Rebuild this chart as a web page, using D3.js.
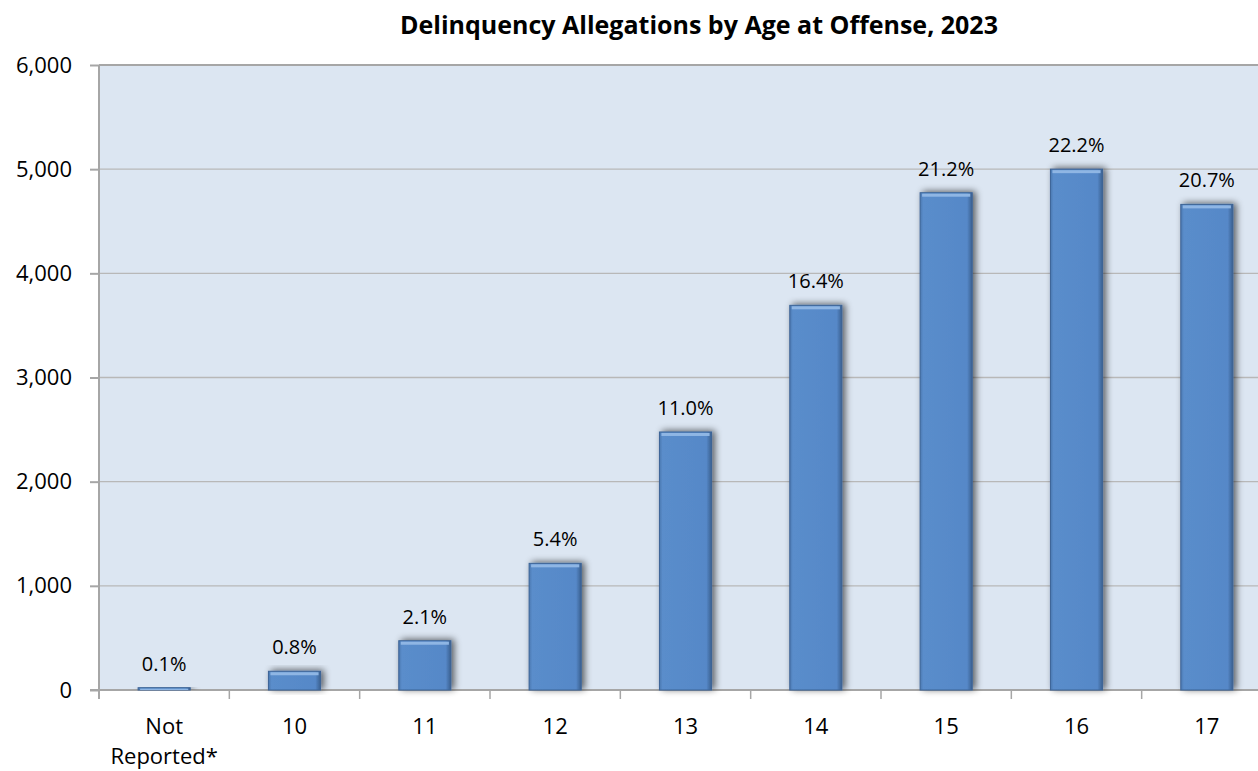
<!DOCTYPE html>
<html>
<head>
<meta charset="utf-8">
<script src="https://cdn.jsdelivr.net/npm/d3@7"></script>
<style>
  html, body { margin: 0; padding: 0; background: #fff; overflow: hidden; }
  svg { display: block; }
  text { font-family: "Open Sans", "Noto Sans", sans-serif; fill: #000; }
</style>
</head>
<body>
<svg id="chart" width="1258" height="771"></svg>
<script>
const categories = ["Not Reported*", "10", "11", "12", "13", "14", "15", "16", "17"];
const values = [22, 180, 473, 1216, 2477, 3693, 4774, 5000, 4662];
const percentLabels = ["0.1%", "0.8%", "2.1%", "5.4%", "11.0%", "16.4%", "21.2%", "22.2%", "20.7%"];
const yTicks = [0, 1000, 2000, 3000, 4000, 5000, 6000];
const titleText = "Delinquency Allegations by Age at Offense, 2023";

const svg = d3.select("#chart");
const margin = { left: 99, top: 65, bottom: 81 };
const plotW = 1173;
const plotH = 771 - margin.top - margin.bottom;

const defs = svg.append("defs");
const grad = defs.append("linearGradient").attr("id", "barGrad").attr("x1", "0").attr("x2", "1").attr("y1", "0").attr("y2", "0");
grad.append("stop").attr("offset", "0%").attr("stop-color", "#4a78b0");
grad.append("stop").attr("offset", "6%").attr("stop-color", "#5a8dcb");
grad.append("stop").attr("offset", "90%").attr("stop-color", "#5688c8");
grad.append("stop").attr("offset", "100%").attr("stop-color", "#3a5f8f");
const shadow = defs.append("filter").attr("id", "shadow").attr("x", "-30%").attr("y", "-30%").attr("width", "160%").attr("height", "160%");
shadow.append("feGaussianBlur").attr("in", "SourceAlpha").attr("stdDeviation", 3.5);
shadow.append("feOffset").attr("dx", 3).attr("dy", -1).attr("result", "b");
shadow.append("feComponentTransfer").append("feFuncA").attr("type", "linear").attr("slope", 0.6);
const merge = shadow.append("feMerge");
merge.append("feMergeNode");
merge.append("feMergeNode").attr("in", "SourceGraphic");

const x = d3.scaleBand().domain(categories).range([0, plotW]).paddingInner(0).paddingOuter(0);
const y = d3.scaleLinear().domain([0, 6000]).range([plotH, 0]);

svg.append("text")
  .attr("x", 699).attr("y", 34)
  .attr("text-anchor", "middle")
  .style("font-size", "25px").style("font-weight", "bold")
  .text(titleText);

const g = svg.append("g").attr("transform", `translate(${margin.left},${margin.top})`);

g.append("rect").attr("x", 0).attr("y", 0).attr("width", plotW).attr("height", plotH).attr("fill", "#dce6f2");

// gridlines
g.append("g").selectAll("line").data(yTicks.filter(d => d > 0)).join("line")
  .attr("x1", 0).attr("x2", plotW)
  .attr("y1", d => y(d)).attr("y2", d => y(d))
  .attr("stroke", d => d === 6000 ? "#a6a6a6" : "#b8b8b8")
  .attr("stroke-width", d => d === 6000 ? 2 : 1.3);

// y axis
const yAxis = g.append("g").call(d3.axisLeft(y).tickValues(yTicks).tickFormat(d3.format(",")).tickSize(9).tickPadding(18));
yAxis.select(".domain").attr("stroke", "#a6a6a6").attr("stroke-width", 2).attr("d", `M0,${plotH}V0`);
yAxis.selectAll(".tick line").attr("stroke", "#a6a6a6").attr("stroke-width", 2);
yAxis.selectAll(".tick text").style("font-size", "22px").attr("fill", "#000");

// x axis
const xAxis = g.append("g").attr("transform", `translate(0,${plotH})`)
  .call(d3.axisBottom(x).tickSize(0).tickPadding(28));
xAxis.select(".domain").attr("stroke", "#a6a6a6").attr("stroke-width", 2).attr("d", `M-9,0H${plotW}`);
xAxis.selectAll(".tick text").style("font-size", "22px").attr("fill", "#000")
  .each(function(d) {
    const t = d3.select(this);
    const parts = d.split(" ");
    if (parts.length > 1) {
      t.text(null);
      parts.forEach((p, i) => t.append("tspan").attr("x", 0).attr("dy", i === 0 ? "0.71em" : "1.36em").text(p));
    }
  });
// category separator ticks
g.append("g").selectAll("line").data(categories).join("line")
  .attr("x1", d => x(d) + x.bandwidth())
  .attr("x2", d => x(d) + x.bandwidth())
  .attr("y1", plotH).attr("y2", plotH + 9)
  .attr("stroke", "#a6a6a6").attr("stroke-width", 1.5);
g.append("line").attr("x1", 0).attr("x2", 0).attr("y1", plotH).attr("y2", plotH + 9).attr("stroke", "#a6a6a6").attr("stroke-width", 2);

// bars
const bw = x.bandwidth() * 0.4;
const bars = g.append("g").selectAll("g").data(values).join("g");
bars.append("rect")
  .attr("x", (d, i) => x(categories[i]) + (x.bandwidth() - bw) / 2)
  .attr("y", d => y(d))
  .attr("width", bw)
  .attr("height", d => plotH - y(d))
  .attr("fill", "url(#barGrad)")
  .attr("stroke", "#3d6496").attr("stroke-width", 1)
  .attr("filter", "url(#shadow)");
bars.append("rect")
  .attr("x", (d, i) => x(categories[i]) + (x.bandwidth() - bw) / 2 + 2)
  .attr("y", d => y(d) + 1)
  .attr("width", bw - 4)
  .attr("height", d => Math.min(3, plotH - y(d) - 1))
  .attr("fill", "#8fb6e4");

// value labels
g.append("g").selectAll("text").data(values).join("text")
  .attr("x", (d, i) => x(categories[i]) + x.bandwidth() / 2)
  .attr("y", d => y(d) - 17)
  .attr("text-anchor", "middle")
  .style("font-size", "20px")
  .text((d, i) => percentLabels[i]);
</script>
</body>
</html>
